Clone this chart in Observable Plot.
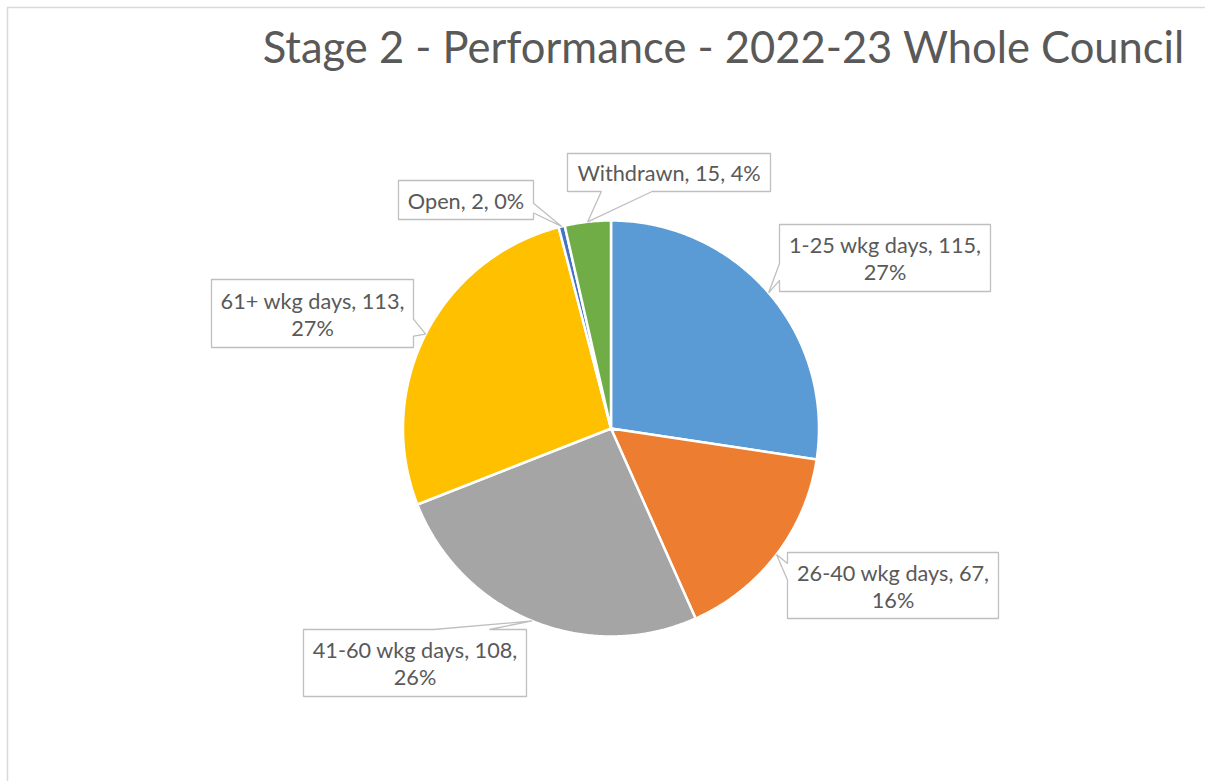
<!DOCTYPE html>
<html>
<head>
<meta charset="utf-8">
<script src="https://cdn.jsdelivr.net/npm/d3@7"></script>
<script src="https://cdn.jsdelivr.net/npm/@observablehq/plot@0.6"></script>
<style>
  html, body { margin: 0; padding: 0; background: #ffffff; }
  #chart svg { display: block; }
</style>
</head>
<body>
<div id="chart"></div>
<script>
// ---- data ----
const titleText = "Stage 2 - Performance - 2022-23 Whole Council";
const categories = ["1-25 wkg days", "26-40 wkg days", "41-60 wkg days", "61+ wkg days", "Open", "Withdrawn"];
const counts = [115, 67, 108, 113, 2, 15];
const sliceColors = ["#5b9bd5", "#ed7d31", "#a5a5a5", "#ffc000", "#4472c4", "#70ad47"];
// whether the data label wraps onto a second line before the percentage
const labelWraps = [true, true, true, true, false, false];

// ---- layout (pixel-space units of the identity scales) ----
const W = 1205, H = 781;
const pieCenter = [610.5, 428];
const pieRadius = 208;
// label box rectangles [x0, y0, x1, y1], one per category
const labelBoxes = [
  [779, 224, 990, 291],
  [787, 552, 998, 618],
  [303, 629, 526, 696],
  [211, 279, 413, 347],
  [398, 180, 533, 219],
  [567, 153, 770, 191]
];
const fontFamily = "Lato, 'Open Sans', sans-serif";
const textColor = "#595959";

// ---- derived geometry ----
const total = d3.sum(counts);
const arcs = d3.pie().sort(null).value(d => d)(counts);
const pt = (a, r) => [pieCenter[0] + r * Math.sin(a), pieCenter[1] - r * Math.cos(a)];

const slicePts = [];
arcs.forEach((a, i) => {
  const cat = categories[i];
  slicePts.push({x: pieCenter[0], y: pieCenter[1], cat});
  const n = Math.max(2, Math.ceil((a.endAngle - a.startAngle) / (Math.PI / 360)));
  for (let k = 0; k <= n; k++) {
    const ang = a.startAngle + (a.endAngle - a.startAngle) * k / n;
    const [x, y] = pt(ang, pieRadius);
    slicePts.push({x, y, cat});
  }
  slicePts.push({x: pieCenter[0], y: pieCenter[1], cat});
});

function callout(box, tip) {
  const [x0, y0, x1, y1] = box;
  const w = x1 - x0, h = y1 - y0;
  const hc = (x0 + x1) / 2, vc = (y0 + y1) / 2;
  const dx = tip[0] - hc, dy = tip[1] - vc;
  const inside = Math.abs(dx) <= w / 2 && Math.abs(dy) <= h / 2;
  let side = null;
  if (!inside) {
    if (Math.abs(dx) / w > Math.abs(dy) / h) side = dx > 0 ? "right" : "left";
    else side = dy > 0 ? "bottom" : "top";
  }
  const xg1 = dx > 0 ? 7 : 2, yg1 = dy > 0 ? 7 : 2;
  const xa = x0 + w * xg1 / 12, xb = x0 + w * (xg1 + 3) / 12;
  const ya = y0 + h * yg1 / 12, yb = y0 + h * (yg1 + 3) / 12;
  const p = [[x0, y0]];
  if (side === "top") p.push([xa, y0], tip, [xb, y0]);
  p.push([x1, y0]);
  if (side === "right") p.push([x1, ya], tip, [x1, yb]);
  p.push([x1, y1]);
  if (side === "bottom") p.push([xb, y1], tip, [xa, y1]);
  p.push([x0, y1]);
  if (side === "left") p.push([x0, yb], tip, [x0, ya]);
  p.push([x0, y0]);
  return p;
}

const calloutPts = [];
const labels = [];
arcs.forEach((a, i) => {
  const mid = (a.startAngle + a.endAngle) / 2;
  const tip = pt(mid, pieRadius);
  callout(labelBoxes[i], tip).forEach(([x, y]) => calloutPts.push({x, y, cat: categories[i]}));
  const pct = Math.round(counts[i] / total * 100) + "%";
  const text = categories[i] + ", " + counts[i] + "," + (labelWraps[i] ? "\n" : " ") + pct;
  const b = labelBoxes[i];
  labels.push({x: (b[0] + b[2]) / 2, y: (b[1] + b[3]) / 2, text});
});

const chart = Plot.plot({
  width: W,
  height: H,
  margin: 0,
  style: {fontFamily, background: "#ffffff"},
  x: {domain: [0, W], range: [0, W], axis: null},
  y: {domain: [0, H], range: [0, H], axis: null},
  color: {domain: categories, range: sliceColors},
  marks: [
    Plot.ruleY([7], {x1: 7, x2: W, stroke: "#d9d9d9", strokeWidth: 1.5}),
    Plot.ruleX([7], {y1: 7, y2: H, stroke: "#d9d9d9", strokeWidth: 1.5}),
    Plot.text([titleText], {x: 723, y: 49, text: d => d, fontSize: 43.5, fill: textColor, fontFamily, textAnchor: "middle"}),
    Plot.line(slicePts, {x: "x", y: "y", z: "cat", fill: "cat", stroke: "#ffffff", strokeWidth: 2.5, strokeLinejoin: "round"}),
    Plot.line(calloutPts, {x: "x", y: "y", z: "cat", fill: "#ffffff", stroke: "#bfbfbf", strokeWidth: 1.3, strokeLinejoin: "miter"}),
    Plot.text(labels, {x: "x", y: "y", text: "text", fontSize: 21.7, lineHeight: 1.25, fill: textColor, fontFamily, textAnchor: "middle"})
  ]
});
document.getElementById("chart").appendChild(chart);
</script>
</body>
</html>
